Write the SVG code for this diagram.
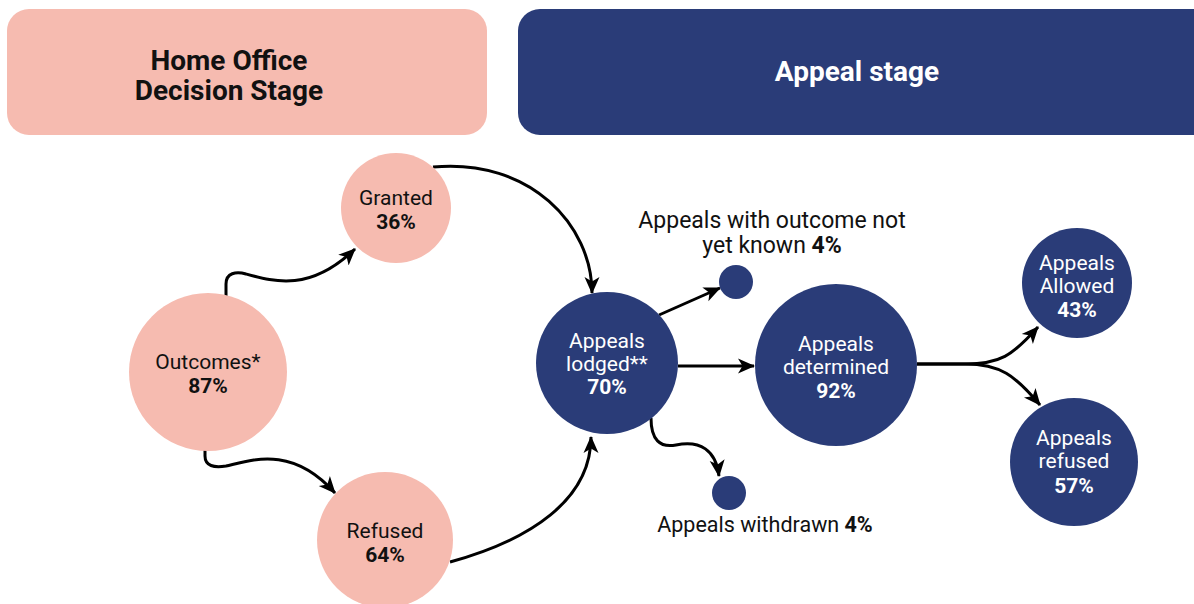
<svg xmlns="http://www.w3.org/2000/svg" width="1194" height="604" viewBox="0 0 1194 604">
<style>
.pink{fill:#F6BBB0}
.navy{fill:#2A3C78}
.t{font-family:Roboto,"Liberation Sans",sans-serif;font-size:21px;text-anchor:middle}
.dk{fill:#111}
.wh{fill:#fff}
.b{font-weight:700}
.hd{font-family:Roboto,"Liberation Sans",sans-serif;font-size:28px;font-weight:700;text-anchor:middle}
.c{fill:none;stroke:#000;stroke-width:3;marker-end:url(#ah)}
</style>
<defs>
<marker id="ah" markerUnits="userSpaceOnUse" markerWidth="18" markerHeight="18" viewBox="0 0 18 18" refX="16" refY="9" orient="auto">
<path d="M0,1.5 L17,9 L0,16.5 L4.5,9 z" fill="#000"/>
</marker>
</defs>
<rect width="1194" height="604" fill="#fff"/>
<g id="header-home">
<rect class="pink" x="7" y="9" width="480" height="126" rx="22"/>
<text class="hd dk" x="229" y="70">Home Office</text>
<text class="hd dk" x="229" y="100">Decision Stage</text>
</g>
<g id="header-appeal">
<rect class="navy" x="518" y="9" width="700" height="126" rx="22"/>
<text class="hd wh" x="857" y="81">Appeal stage</text>
</g>
<g id="connectors">
<path class="c" d="M226,296 L226,284 C226,273 236,271 246,274 C275,282 310,292 355,249"/>
<path class="c" d="M205,450 L205,456 C205,466 214,468 226,466 C252,460 292,445 335,493"/>
<path class="c" d="M433,167 C530,158 592,225 592,293"/>
<path class="c" d="M450,562 C530,540 591,500 591,437"/>
<path class="c" d="M659,315 L720,288"/>
<path class="c" d="M678,366 L754,366"/>
<path class="c" d="M651,418 C651,440 660,448 676,445 C700,440 716,450 719,476"/>
<path class="c" d="M917,364 L965,364 C1000,364 1012,356 1038,327"/>
<path class="c" d="M917,364 L965,364 C1000,364 1015,375 1040,405"/>
</g>
<g id="outcomes">
<circle class="pink" cx="208" cy="372" r="79"/>
<text class="t dk" x="208" y="369">Outcomes*</text>
<text class="t dk b" x="208" y="393">87%</text>
</g>
<g id="granted">
<circle class="pink" cx="396" cy="208" r="55"/>
<text class="t dk" x="396" y="205">Granted</text>
<text class="t dk b" x="396" y="229">36%</text>
</g>
<g id="refused">
<circle class="pink" cx="385" cy="540" r="68"/>
<text class="t dk" x="385" y="538">Refused</text>
<text class="t dk b" x="385" y="562">64%</text>
</g>
<g id="lodged">
<circle class="navy" cx="607" cy="363" r="71"/>
<text class="t wh" x="607" y="348">Appeals</text>
<text class="t wh" x="607" y="371">lodged**</text>
<text class="t wh b" x="607" y="394">70%</text>
</g>
<g id="not-known">
<circle class="navy" cx="736" cy="282" r="17"/>
<text class="t dk" x="772" y="228" style="font-size:23px">Appeals with outcome not</text>
<text class="t dk" x="772" y="253" style="font-size:23px">yet known <tspan class="b">4%</tspan></text>
</g>
<g id="withdrawn">
<circle class="navy" cx="729" cy="493" r="17"/>
<text class="t dk" x="765" y="532" style="font-size:21.5px">Appeals withdrawn <tspan class="b">4%</tspan></text>
</g>
<g id="determined">
<circle class="navy" cx="836" cy="365" r="81"/>
<text class="t wh" x="836" y="351">Appeals</text>
<text class="t wh" x="836" y="374">determined</text>
<text class="t wh b" x="836" y="398">92%</text>
</g>
<g id="allowed">
<circle class="navy" cx="1077" cy="283" r="55"/>
<text class="t wh" x="1077" y="270">Appeals</text>
<text class="t wh" x="1077" y="293">Allowed</text>
<text class="t wh b" x="1077" y="317">43%</text>
</g>
<g id="appeals-refused">
<circle class="navy" cx="1074" cy="462" r="64"/>
<text class="t wh" x="1074" y="445">Appeals</text>
<text class="t wh" x="1074" y="468">refused</text>
<text class="t wh b" x="1074" y="493">57%</text>
</g>
</svg>
